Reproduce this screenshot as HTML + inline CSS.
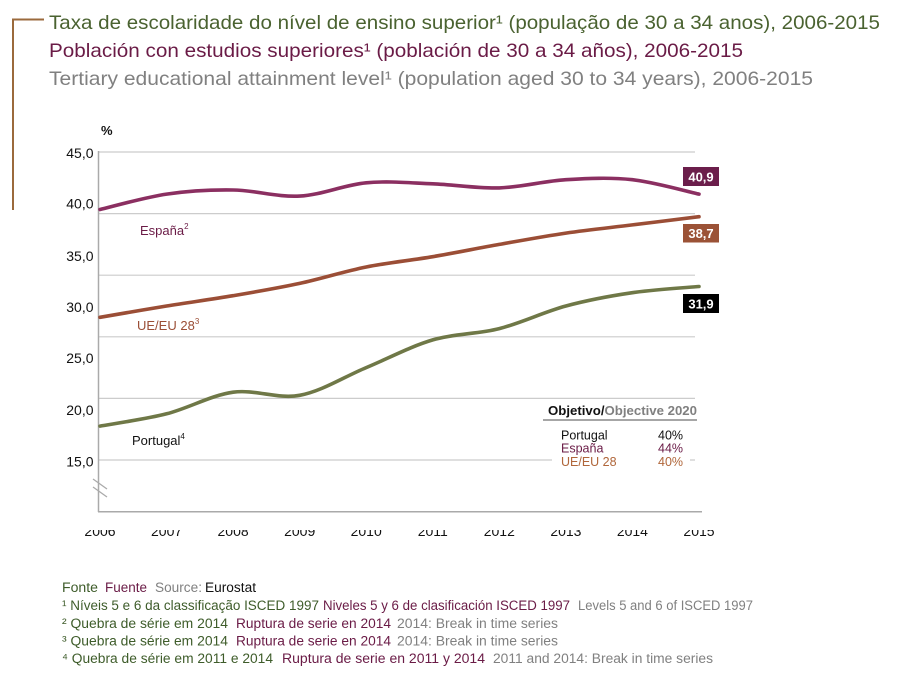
<!DOCTYPE html>
<html><head><meta charset="utf-8"><style>
html,body{margin:0;padding:0;background:#fff;}
svg{display:block;}
text{font-family:"Liberation Sans",sans-serif;}
</style></head><body>
<svg width="897" height="675" viewBox="0 0 897 675" xmlns="http://www.w3.org/2000/svg">
<defs><clipPath id="xc"><rect x="0" y="530" width="897" height="20"/></clipPath></defs>
<rect width="897" height="675" fill="#fff"/>
<!-- bracket -->
<path d="M44,19.5 H13 V210" fill="none" stroke="#9b6a3c" stroke-width="2"/>
<!-- titles -->
<text x="49" y="29" font-size="19.5" fill="#4a6230" textLength="831" lengthAdjust="spacingAndGlyphs">Taxa de escolaridade do nível de ensino superior¹ (população de 30 a 34 anos), 2006-2015</text>
<text x="49" y="57" font-size="19.5" fill="#6a1b46" textLength="694" lengthAdjust="spacingAndGlyphs">Población con estudios superiores¹ (población de 30 a 34 años), 2006-2015</text>
<text x="49" y="85" font-size="19.5" fill="#808080" textLength="764" lengthAdjust="spacingAndGlyphs">Tertiary educational attainment level¹ (population aged 30 to 34 years), 2006-2015</text>
<!-- % -->
<text x="101" y="135" font-size="13" font-weight="bold" fill="#111">%</text>
<!-- gridlines -->
<g stroke="#cccccc" stroke-width="1.2">
<line x1="99" y1="152" x2="695" y2="152"/>
<line x1="99" y1="213.6" x2="695" y2="213.6"/>
<line x1="99" y1="275.2" x2="695" y2="275.2"/>
<line x1="99" y1="336.8" x2="695" y2="336.8"/>
<line x1="99" y1="398.4" x2="695" y2="398.4"/>
<line x1="99" y1="460" x2="695" y2="460"/>
</g>
<!-- axes -->
<line x1="98.5" y1="151" x2="98.5" y2="512" stroke="#aaaaaa" stroke-width="1.5"/>
<line x1="98" y1="511.8" x2="702" y2="511.8" stroke="#aaaaaa" stroke-width="1.5"/>
<g stroke="#aaaaaa" stroke-width="1.3">
<line x1="93" y1="479" x2="107" y2="489"/>
<line x1="93" y1="487" x2="107" y2="497"/>
</g>
<!-- y labels -->
<g font-size="14" fill="#111" text-anchor="end">
<text x="93.5" y="158">45,0</text>
<text x="93.5" y="208.5">40,0</text>
<text x="93.5" y="261">35,0</text>
<text x="93.5" y="312">30,0</text>
<text x="93.5" y="363">25,0</text>
<text x="93.5" y="415">20,0</text>
<text x="93.5" y="466.5">15,0</text>
</g>
<!-- x labels (clipped at top) -->
<g font-size="14" fill="#111" text-anchor="middle" clip-path="url(#xc)">
<text x="100" y="536">2006</text>
<text x="166.6" y="536">2007</text>
<text x="233.1" y="536">2008</text>
<text x="299.7" y="536">2009</text>
<text x="366.2" y="536">2010</text>
<text x="432.8" y="536">2011</text>
<text x="499.3" y="536">2012</text>
<text x="565.9" y="536">2013</text>
<text x="632.4" y="536">2014</text>
<text x="699" y="536">2015</text>
</g>
<!-- legend box -->
<rect x="552" y="403" width="138" height="70" fill="#fff"/>
<text x="548" y="415" font-size="13" font-weight="bold" fill="#111" textLength="149" lengthAdjust="spacingAndGlyphs">Objetivo/<tspan fill="#808080">Objective 2020</tspan></text>
<line x1="543" y1="420" x2="697" y2="420" stroke="#888" stroke-width="1.5"/>
<g font-size="12.5">
<text x="561" y="439.5" fill="#111">Portugal</text>
<text x="658" y="439.5" fill="#111">40%</text>
<text x="561" y="452.5" fill="#6a1b46">España</text>
<text x="658" y="452.5" fill="#6a1b46">44%</text>
<text x="561" y="466" fill="#b0663a">UE/EU 28</text>
<text x="658" y="466" fill="#b0663a">40%</text>
</g>
<!-- series -->
<path fill="none" stroke="#6f7847" stroke-width="3.6" stroke-linecap="round" d="M100,426.1 C111.1,424.05 144.4,419.45 166.6,413.8 C188.8,408.15 210.9,395.28 233.1,392.2 C255.3,389.12 277.5,399.4 299.7,395.3 C321.9,391.2 344.0,376.83 366.2,367.6 C388.4,358.37 410.6,346.4 432.8,339.9 C455.0,333.4 477.1,334.25 499.3,328.6 C521.5,322.95 543.7,311.98 565.9,306.0 C588.1,300.02 610.2,295.95 632.4,292.7 C654.6,289.45 687.9,287.53 699,286.5"/>
<path fill="none" stroke="#8b2f61" stroke-width="3.6" stroke-linecap="round" d="M100,209.5 C111.1,206.93 144.4,197.35 166.6,194.1 C188.8,190.85 210.9,189.67 233.1,190.0 C255.3,190.33 277.5,197.3 299.7,196.1 C321.9,194.9 344.0,184.85 366.2,182.8 C388.4,180.75 410.6,182.95 432.8,183.8 C455.0,184.65 477.1,188.58 499.3,187.9 C521.5,187.22 543.7,181.07 565.9,179.7 C588.1,178.33 610.2,177.3 632.4,179.7 C654.6,182.1 687.9,191.7 699,194.1"/>
<path fill="none" stroke="#9b4e36" stroke-width="3.6" stroke-linecap="round" d="M100,317.3 C111.1,315.42 144.4,309.6 166.6,306.0 C188.8,302.4 210.9,299.47 233.1,295.7 C255.3,291.93 277.5,288.18 299.7,283.4 C321.9,278.62 344.0,271.45 366.2,267.0 C388.4,262.55 410.6,260.47 432.8,256.7 C455.0,252.93 477.1,248.33 499.3,244.4 C521.5,240.47 543.7,236.35 565.9,233.1 C588.1,229.85 610.2,227.63 632.4,224.9 C654.6,222.17 687.9,218.07 699,216.7"/>
<!-- series labels -->
<g font-size="13">
<text x="140" y="235" fill="#6a1b46">España<tspan font-size="8" dy="-6">2</tspan></text>
<text x="137" y="330" fill="#9b4e36">UE/EU 28<tspan font-size="8" dy="-6">3</tspan></text>
<text x="132" y="445" fill="#111">Portugal<tspan font-size="8" dy="-6">4</tspan></text>
</g>
<!-- value boxes -->
<rect x="683" y="167" width="36" height="19" fill="#6b1e4b"/>
<rect x="683" y="224" width="36" height="18.5" fill="#9b5236"/>
<rect x="683" y="294" width="36" height="19" fill="#000"/>
<g font-size="13" font-weight="bold" fill="#fff" text-anchor="middle">
<text x="701" y="181.5">40,9</text>
<text x="701" y="238">38,7</text>
<text x="701" y="308.5">31,9</text>
</g>
<!-- footer -->
<g font-size="13.5">
<text x="62" y="592" fill="#3e5c2a" textLength="36" lengthAdjust="spacingAndGlyphs">Fonte</text>
<text x="105" y="592" fill="#6a1b46" textLength="42" lengthAdjust="spacingAndGlyphs">Fuente</text>
<text x="155" y="592" fill="#808080" textLength="47" lengthAdjust="spacingAndGlyphs">Source:</text>
<text x="205" y="592" fill="#111" textLength="51" lengthAdjust="spacingAndGlyphs">Eurostat</text>

<text x="62" y="610" fill="#3e5c2a" textLength="257" lengthAdjust="spacingAndGlyphs">¹ Níveis 5 e 6 da classificação ISCED 1997</text>
<text x="323" y="610" fill="#6a1b46" textLength="247" lengthAdjust="spacingAndGlyphs">Niveles 5 y 6 de clasificación ISCED 1997</text>
<text x="578" y="610" fill="#808080" textLength="175" lengthAdjust="spacingAndGlyphs">Levels 5 and 6 of ISCED 1997</text>

<text x="62" y="628" fill="#3e5c2a" textLength="166" lengthAdjust="spacingAndGlyphs">² Quebra de série em 2014</text>
<text x="236" y="628" fill="#6a1b46" textLength="155" lengthAdjust="spacingAndGlyphs">Ruptura de serie en 2014</text>
<text x="397" y="628" fill="#808080" textLength="161" lengthAdjust="spacingAndGlyphs">2014: Break in time series</text>

<text x="62" y="645.5" fill="#3e5c2a" textLength="166" lengthAdjust="spacingAndGlyphs">³ Quebra de série em 2014</text>
<text x="236" y="645.5" fill="#6a1b46" textLength="155" lengthAdjust="spacingAndGlyphs">Ruptura de serie en 2014</text>
<text x="397" y="645.5" fill="#808080" textLength="161" lengthAdjust="spacingAndGlyphs">2014: Break in time series</text>

<text x="62" y="663" fill="#3e5c2a" textLength="211" lengthAdjust="spacingAndGlyphs">⁴ Quebra de série em 2011 e 2014</text>
<text x="282" y="663" fill="#6a1b46" textLength="203" lengthAdjust="spacingAndGlyphs">Ruptura de serie en 2011 y  2014</text>
<text x="493" y="663" fill="#808080" textLength="220" lengthAdjust="spacingAndGlyphs">2011 and 2014: Break in time series</text>
</g>
</svg>
</body></html>
